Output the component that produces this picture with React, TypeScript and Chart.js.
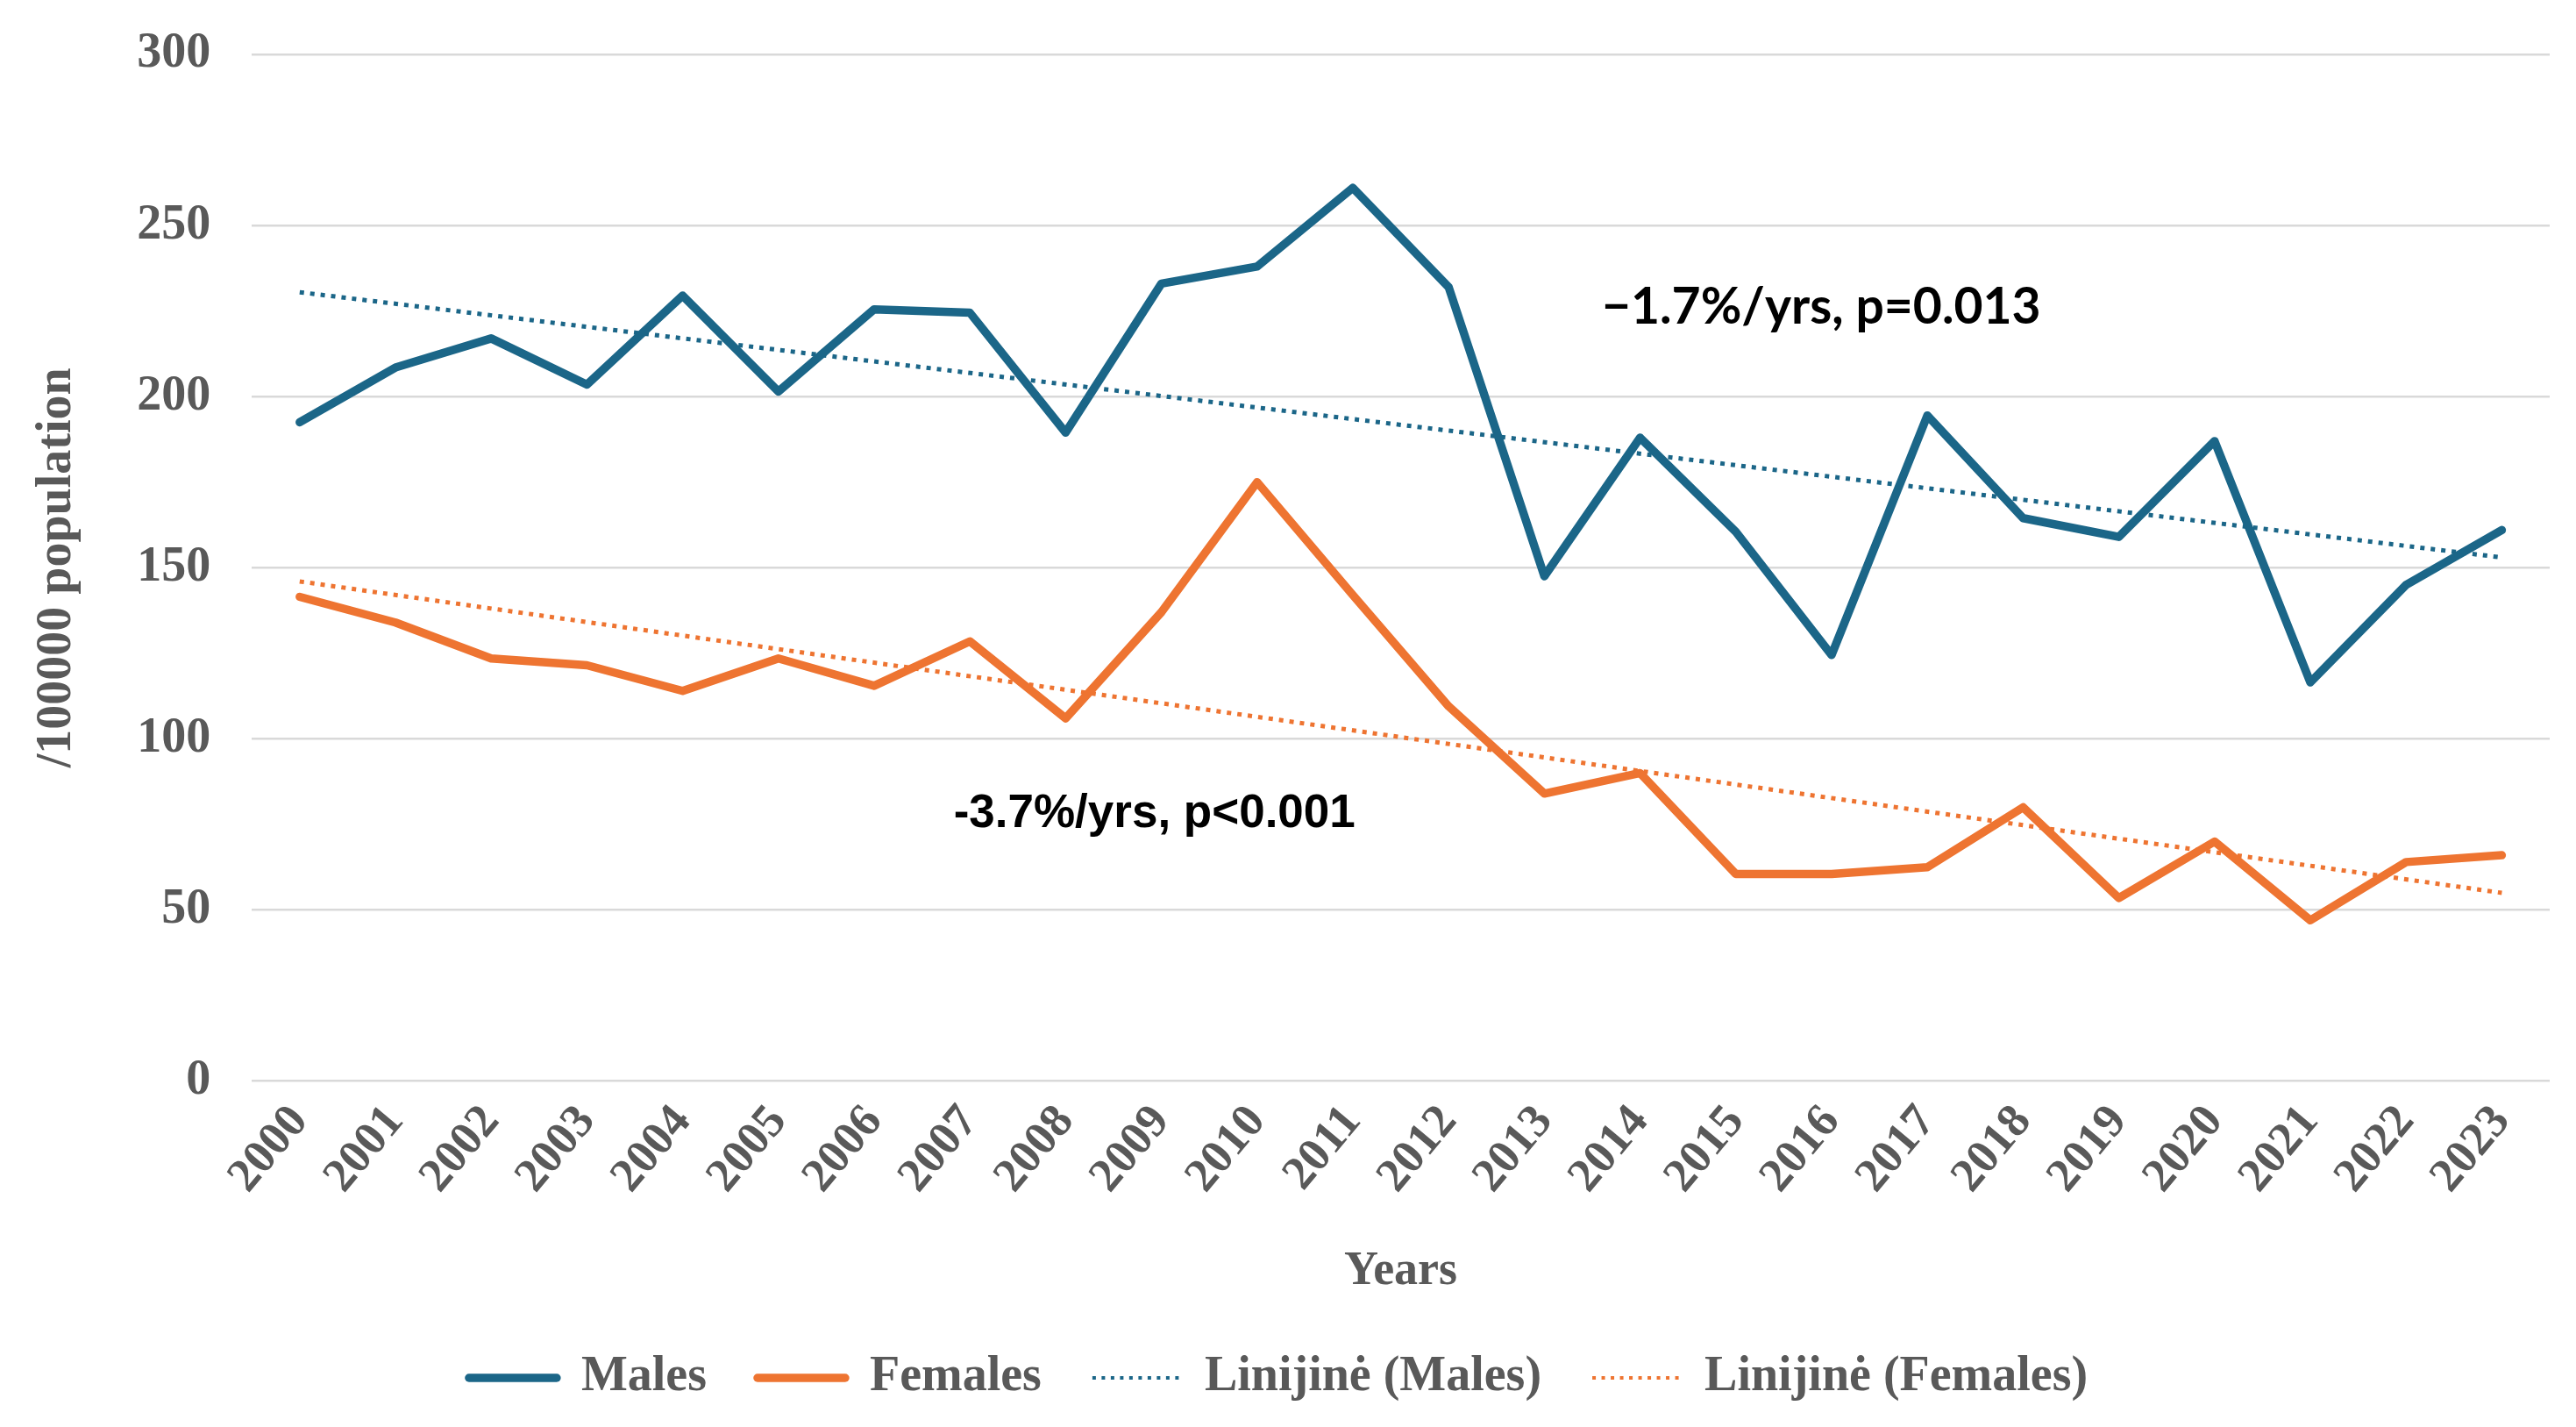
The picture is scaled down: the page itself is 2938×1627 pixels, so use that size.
import React, { useEffect, useRef } from "react";
import { Chart, registerables } from "chart.js";

Chart.register(...registerables);

const years = [
  "2000", "2001", "2002", "2003", "2004", "2005", "2006", "2007", "2008", "2009", "2010", "2011",
  "2012", "2013", "2014", "2015", "2016", "2017", "2018", "2019", "2020", "2021", "2022", "2023",
];
const males = [
  192.5, 208.5, 217, 203.5, 229.5, 201.5, 225.5, 224.5, 189.5, 233, 238, 261,
  232, 147.5, 188, 160.5, 124.5, 194.5, 164.5, 159, 187, 116.5, 145, 161,
];
const females = [
  141.5, 134, 123.5, 121.5, 114, 123.5, 115.5, 128.5, 106, 137, 175, 142,
  109.5, 84, 90, 60.5, 60.5, 62.5, 80, 53.5, 70, 47, 64, 66,
];
// trend line end values (2000, 2023)
const malesTrend = [230.5, 153];
const femalesTrend = [146, 55];
const yTicks = [0, 50, 100, 150, 200, 250, 300];

const noteTexts = ["\u22121.7%/yrs, p=0.013", "-3.7%/yrs, p<0.001"];

const BLUE = "#1b6688";
const ORANGE = "#ee7431";
const GREY = "#595959";
const SERIF = "'Liberation Serif', 'Times New Roman', serif";

const trendNotes = {
  id: "trendNotes",
  afterDatasetsDraw(chart: any) {
    const { ctx, scales } = chart;
    const notes = [
      { text: noteTexts[0], at: [13.6, 226], font: "bold 57px Lato, 'Open Sans', sans-serif" },
      { text: noteTexts[1], at: [6.83, 78], font: "bold 53px 'Liberation Sans', Arial, sans-serif" },
    ];
    ctx.save();
    ctx.fillStyle = "#000";
    ctx.textAlign = "left";
    ctx.textBaseline = "middle";
    notes.forEach((n) => {
      ctx.font = n.font;
      ctx.fillText(n.text, scales.x.getPixelForValue(n.at[0]), scales.y.getPixelForValue(n.at[1]));
    });
    ctx.restore();
  },
};

const App: React.FC = () => {
  const canvasRef = useRef<HTMLCanvasElement | null>(null);
  const chartRef = useRef<Chart | null>(null);

  useEffect(() => {
    if (chartRef.current) chartRef.current.destroy();
    if (!canvasRef.current) return;

    const last = years[years.length - 1];

    chartRef.current = new Chart(canvasRef.current, {
      type: "line",
      data: {
        labels: years,
        datasets: [
          {
            label: "Males",
            data: males,
            borderColor: BLUE,
            backgroundColor: BLUE,
            borderWidth: 9.5,
            borderCapStyle: "round",
            borderJoinStyle: "round",
            pointRadius: 0,
            tension: 0,
          },
          {
            label: "Females",
            data: females,
            borderColor: ORANGE,
            backgroundColor: ORANGE,
            borderWidth: 9.5,
            borderCapStyle: "round",
            borderJoinStyle: "round",
            pointRadius: 0,
            tension: 0,
          },
          {
            label: "Linijinė (Males)",
            data: [
              { x: years[0], y: malesTrend[0] },
              { x: last, y: malesTrend[1] },
            ] as any,
            borderColor: BLUE,
            backgroundColor: BLUE,
            borderWidth: 5,
            borderDash: [5, 7],
            pointRadius: 0,
          },
          {
            label: "Linijinė (Females)",
            data: [
              { x: years[0], y: femalesTrend[0] },
              { x: last, y: femalesTrend[1] },
            ] as any,
            borderColor: ORANGE,
            backgroundColor: ORANGE,
            borderWidth: 5,
            borderDash: [5, 7],
            pointRadius: 0,
          },
        ],
      },
      options: {
        responsive: true,
        maintainAspectRatio: false,
        animation: false,
        layout: {
          padding: { top: 54, right: 22, bottom: 10, left: 0 },
        },
        scales: {
          x: {
            offset: true,
            grid: { display: false },
            border: { display: false },
            ticks: {
              autoSkip: false,
              maxRotation: 50,
              minRotation: 50,
              padding: 8,
              color: GREY,
              font: { family: SERIF, size: 54, weight: "bold" },
            },
            title: {
              display: true,
              text: "Years",
              color: GREY,
              padding: { top: 42, bottom: 8 },
              font: { family: SERIF, size: 54, weight: "bold", lineHeight: 1 },
            },
          },
          y: {
            min: 0,
            max: 300,
            afterBuildTicks: (scale: any) => {
              scale.ticks = yTicks.map((v) => ({ value: v }));
            },
            grid: { color: "#d9d9d9", lineWidth: 2.5, drawTicks: true, tickLength: 39, tickColor: "rgba(0,0,0,0)" },
            border: { display: false },
            ticks: {
              padding: 8,
              color: GREY,
              font: { family: SERIF, size: 56, weight: "bold" },
            },
            title: {
              display: true,
              text: "/100000 population",
              color: GREY,
              padding: { top: 24, bottom: 49 },
              font: { family: SERIF, size: 56, weight: "bold", lineHeight: 1.2 },
            },
          },
        },
        plugins: {
          legend: {
            position: "bottom",
            labels: {
              usePointStyle: true,
              pointStyle: "line",
              pointStyleWidth: 100,
              boxHeight: 56,
              padding: 58,
              color: GREY,
              font: { family: SERIF, size: 56, weight: "bold" },
              generateLabels: (chart: any) => {
                const items = Chart.defaults.plugins.legend.labels.generateLabels(chart);
                return items.map((item: any) => {
                  const ds = chart.data.datasets[item.datasetIndex];
                  item.lineWidth = ds.borderDash ? 4 : ds.borderWidth;
                  item.lineDash = ds.borderDash ? [4, 6.5] : [];
                  item.lineCap = ds.borderDash ? "butt" : "round";
                  item.strokeStyle = ds.borderColor;
                  return item;
                });
              },
            },
          },
          tooltip: { enabled: false },
        },
      },
      plugins: [trendNotes],
    });

    return () => {
      if (chartRef.current) chartRef.current.destroy();
    };
  }, []);

  return (
    <div style={{ width: "2922px", height: "1611px", position: "relative", background: "#fff" }}>
      <canvas ref={canvasRef} />
    </div>
  );
};

export default App;
